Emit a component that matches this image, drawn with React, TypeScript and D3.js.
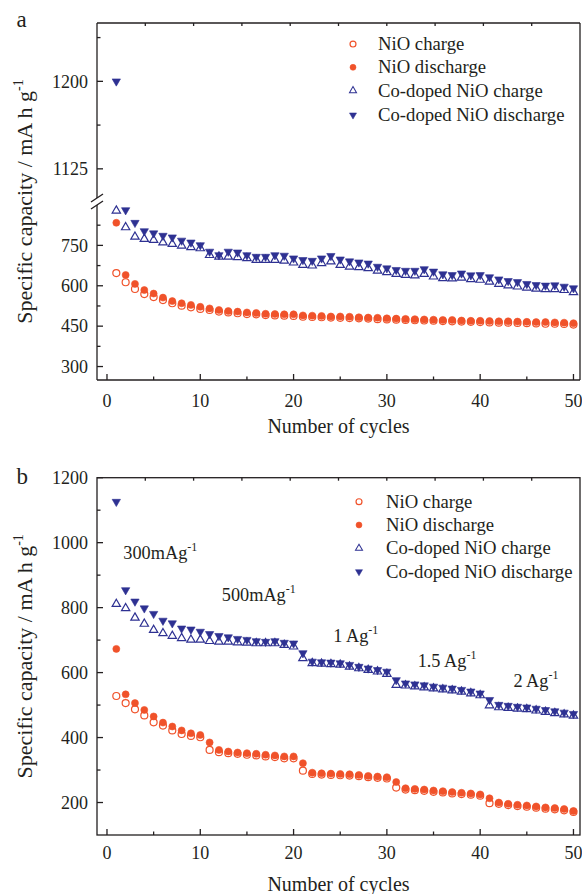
import React from 'react';
import * as d3 from 'd3';

const W = 582;
const H = 894;
const FONT = '"Liberation Serif", "Times New Roman", serif';
const ORANGE = '#F0522A';
const NAVY = '#2E3192';
const INK = '#231F20';

const cycles = d3.range(1, 51);

// panel a – capacity per cycle (mA h g-1)
const nioChargeA = [647, 613, 588, 569, 558, 547, 535, 526, 520, 514, 510, 504, 501, 498, 495, 494, 491, 490, 489, 488,
  485, 484, 483, 482, 481, 480, 479, 478, 476, 475, 474, 473, 472, 471, 470, 469, 468, 467, 466, 465,
  464, 463, 463, 462, 461, 460, 459, 459, 458, 456];
const nioDischargeA = [834, 640, 607, 584, 571, 556, 543, 535, 529, 522, 516, 510, 506, 504, 501, 499, 496, 495, 494, 494,
  490, 489, 488, 486, 486, 485, 483, 482, 481, 479, 478, 477, 476, 475, 474, 473, 473, 471, 470, 470,
  469, 468, 468, 467, 466, 465, 465, 464, 463, 461];
const coChargeA = [879, 817, 782, 774, 770, 761, 755, 749, 743, 739, 714, 708, 708, 706, 702, 696, 696, 696, 693, 686,
  677, 675, 684, 690, 677, 671, 669, 665, 656, 650, 644, 640, 638, 644, 634, 628, 627, 630, 624, 622,
  615, 607, 601, 597, 593, 589, 587, 587, 584, 576];
const coDischargeA = [1200, 881, 834, 803, 795, 786, 780, 768, 761, 751, 727, 714, 727, 724, 714, 708, 708, 714, 712, 702,
  696, 693, 702, 711, 698, 691, 687, 683, 671, 665, 659, 656, 656, 662, 653, 643, 640, 646, 639, 640,
  632, 624, 618, 614, 607, 603, 601, 602, 597, 591];

// panel b – rate test
const nioChargeB = [528, 506, 487, 468, 447, 437, 422, 411, 405, 401, 362, 355, 352, 350, 347, 345, 342, 340, 336, 336,
  298, 288, 286, 285, 284, 283, 281, 278, 276, 274, 246, 240, 238, 236, 233, 231, 228, 226, 224, 221,
  198, 196, 192, 189, 187, 184, 181, 179, 176, 171];
const nioDischargeB = [673, 533, 506, 485, 465, 446, 434, 422, 413, 408, 385, 362, 357, 354, 352, 350, 347, 345, 342, 342,
  321, 292, 290, 289, 288, 287, 285, 282, 280, 278, 263, 244, 242, 240, 237, 235, 232, 230, 228, 225,
  213, 200, 196, 193, 191, 188, 185, 183, 180, 174];
const coChargeB = [811, 798, 769, 750, 731, 721, 713, 706, 701, 701, 697, 695, 695, 693, 692, 690, 690, 690, 685, 680,
  644, 629, 627, 626, 624, 618, 613, 608, 603, 596, 562, 560, 557, 554, 551, 548, 545, 541, 536, 530,
  499, 493, 491, 489, 487, 483, 479, 475, 471, 467];
const coDischargeB = [1126, 854, 819, 798, 781, 760, 752, 736, 733, 726, 719, 713, 709, 704, 701, 697, 695, 697, 692, 690,
  660, 634, 632, 631, 629, 624, 618, 613, 608, 603, 577, 567, 564, 561, 557, 554, 551, 547, 542, 536,
  516, 501, 498, 495, 493, 489, 485, 481, 477, 473];

const seriesLabels = ['NiO charge', 'NiO discharge', 'Co-doped NiO charge', 'Co-doped NiO discharge'];
const seriesStyle = [
  { kind: 'circle', open: true, color: ORANGE },
  { kind: 'circle', open: false, color: ORANGE },
  { kind: 'up', open: true, color: NAVY },
  { kind: 'down', open: false, color: NAVY },
];

const xMajor = [0, 10, 20, 30, 40, 50];
const xMinor = [5, 15, 25, 35, 45];
const aUpperMajor = [1125, 1200];
const aUpperMinor = [1162.5, 1237.5];
const aLowerMajor = [300, 450, 600, 750];
const aLowerMinor = [375, 525, 675, 825];
const bMajor = [200, 400, 600, 800, 1000, 1200];
const bMinor = [300, 500, 700, 900, 1100];

// rate annotations: [cycle, capacity] at text start
const rateLabels = [
  { main: '300mAg', at: [1.75, 949] },
  { main: '500mAg', at: [12.3, 821] },
  { main: '1 Ag', at: [24.26, 694] },
  { main: '1.5 Ag', at: [33.3, 618] },
  { main: '2 Ag', at: [43.56, 556] },
];

const LEFT = 97;
const RIGHT = 580;
const x = d3.scaleLinear().domain([-1.07, 50.7]).range([LEFT, RIGHT]);
const xTop = d3.scaleLinear().domain([0, 10]).range([LEFT, RIGHT]);

// panel a has a broken axis
const A_TOP = 23, A_BOTTOM = 380;
const yAUpper = d3.scaleLinear().domain([1100, 1250]).range([198, A_TOP]);
const yALower = d3.scaleLinear().domain([250, 900]).range([A_BOTTOM, 205]);
const yA = (v: number) => (v >= 1000 ? yAUpper(v) : yALower(v));

const B_TOP = 477.7, B_BOTTOM = 835;
const yB = d3.scaleLinear().domain([100, 1200]).range([B_BOTTOM, B_TOP]);

const circleR = 3.5;
const triUp = d3.symbol(d3.symbolTriangle, 30)() as string;

function Marker({ kind, open, color, cx, cy, scale = 1 }: any) {
  const fill = open ? '#fff' : color;
  const stroke = color;
  if (kind === 'circle') {
    return <circle cx={cx} cy={cy} r={circleR * scale} fill={fill} stroke={stroke} strokeWidth={open ? 1.2 : 0.6} />;
  }
  const rot = kind === 'down' ? 180 : 0;
  return (
    <path d={triUp} transform={`translate(${cx},${cy}) rotate(${rot}) scale(${scale})`}
      fill={fill} stroke={stroke} strokeWidth={open ? 1.2 : 0.6} strokeLinejoin="miter" />
  );
}

function Series({ data, y }: { data: number[][]; y: (v: number) => number }) {
  return (
    <g>
      {data.map((vals, si) => (
        <g key={si}>
          {vals.map((v, i) => (
            <Marker key={i} {...seriesStyle[si]} cx={x(cycles[i])} cy={y(v)} />
          ))}
        </g>
      ))}
    </g>
  );
}

function Legend({ mx, tx, rows }: { mx: number; tx: number; rows: number[] }) {
  return (
    <g>
      {seriesLabels.map((lab, i) => (
        <g key={lab}>
          <Marker {...seriesStyle[i]} cx={mx} cy={rows[i]} scale={0.85} />
          <text x={tx} y={rows[i] + 6} fontSize={18.7} fill={INK}>{lab}</text>
        </g>
      ))}
    </g>
  );
}

function XAxis({ top, bottom, labelDy, titleY }: { top: number; bottom: number; labelDy: number; titleY: number }) {
  return (
    <g stroke={INK} strokeWidth={1.3}>
      {xMajor.map(t => <line key={'M' + t} x1={x(t)} x2={x(t)} y1={bottom} y2={bottom - 6} />)}
      {xMinor.map(t => <line key={'m' + t} x1={x(t)} x2={x(t)} y1={bottom} y2={bottom - 3.5} />)}
      {d3.range(1, 10).map(t => <line key={'t' + t} x1={xTop(t)} x2={xTop(t)} y1={top} y2={top + 3} />)}
      <g stroke="none" fill={INK} fontSize={18} textAnchor="middle">
        {xMajor.map(t => <text key={t} x={x(t)} y={bottom + labelDy}>{t}</text>)}
        <text x={(LEFT + RIGHT) / 2} y={titleY} fontSize={20}>Number of cycles</text>
      </g>
    </g>
  );
}

function YTicks({ major, minor, y }: { major: number[]; minor: number[]; y: (v: number) => number }) {
  return (
    <g stroke={INK} strokeWidth={1.3}>
      {major.map(t => <line key={'M' + t} x1={LEFT} x2={LEFT + 6} y1={y(t)} y2={y(t)} />)}
      {minor.map(t => <line key={'m' + t} x1={LEFT} x2={LEFT + 3.5} y1={y(t)} y2={y(t)} />)}
      <g stroke="none" fill={INK} fontSize={18} textAnchor="end">
        {major.map(t => <text key={t} x={LEFT - 9} y={y(t)} dy="0.35em">{t}</text>)}
      </g>
    </g>
  );
}

function YTitle({ cy }: { cy: number }) {
  return (
    <text transform={`translate(31.5,${cy}) rotate(-90)`} textAnchor="middle" fontSize={22} fill={INK}>
      Specific capacity / mA h g<tspan dy={-9} fontSize={14}>-1</tspan>
    </text>
  );
}

export default function App() {
  const dataA = [nioChargeA, nioDischargeA, coChargeA, coDischargeA];
  const dataB = [nioChargeB, nioDischargeB, coChargeB, coDischargeB];
  const breakTop = yAUpper.range()[0];
  const breakBottom = yALower.range()[1];
  return (
    <svg width={W} height={H} style={{ position: 'absolute', left: 0, top: 0, background: '#fff' }}
      fontFamily={FONT}>
      {/* panel a */}
      <text x={16.5} y={26.5} fontSize={23} fill={INK}>a</text>
      <g fill="none" stroke={INK} strokeWidth={1.3}>
        <line x1={LEFT} x2={RIGHT} y1={A_TOP} y2={A_TOP} />
        <line x1={LEFT} x2={RIGHT} y1={A_BOTTOM} y2={A_BOTTOM} />
        <line x1={RIGHT} x2={RIGHT} y1={A_TOP} y2={A_BOTTOM} />
        <line x1={LEFT} x2={LEFT} y1={A_TOP} y2={breakTop} />
        <line x1={LEFT} x2={LEFT} y1={breakBottom} y2={A_BOTTOM} />
        <line x1={LEFT - 6} x2={LEFT + 6} y1={breakTop + 4} y2={breakTop - 4} />
        <line x1={LEFT - 6} x2={LEFT + 6} y1={breakBottom + 4} y2={breakBottom - 4} />
      </g>
      <YTicks major={aUpperMajor} minor={aUpperMinor} y={yAUpper} />
      <YTicks major={aLowerMajor} minor={aLowerMinor} y={yALower} />
      <XAxis top={A_TOP} bottom={A_BOTTOM} labelDy={26.5} titleY={433} />
      <YTitle cy={(A_TOP + A_BOTTOM) / 2} />
      <Series data={dataA} y={yA} />
      <Legend mx={353} tx={378} rows={[44, 67.3, 90.7, 115]} />

      {/* panel b */}
      <text x={16.5} y={484.3} fontSize={23} fill={INK}>b</text>
      <rect x={LEFT} y={B_TOP} width={RIGHT - LEFT} height={B_BOTTOM - B_TOP} fill="none" stroke={INK} strokeWidth={1.3} />
      <YTicks major={bMajor} minor={bMinor} y={yB} />
      <XAxis top={B_TOP} bottom={B_BOTTOM} labelDy={23.5} titleY={891} />
      <YTitle cy={(B_TOP + B_BOTTOM) / 2} />
      <Series data={dataB} y={yB} />
      <Legend mx={359} tx={386} rows={[501.7, 525, 548.3, 571.7]} />
      <g fontSize={18.3} fill={INK}>
        {rateLabels.map(r => (
          <text key={r.main} x={x(r.at[0])} y={yB(r.at[1])}>
            {r.main}<tspan dy={-8} fontSize={12}>-1</tspan>
          </text>
        ))}
      </g>
    </svg>
  );
}
